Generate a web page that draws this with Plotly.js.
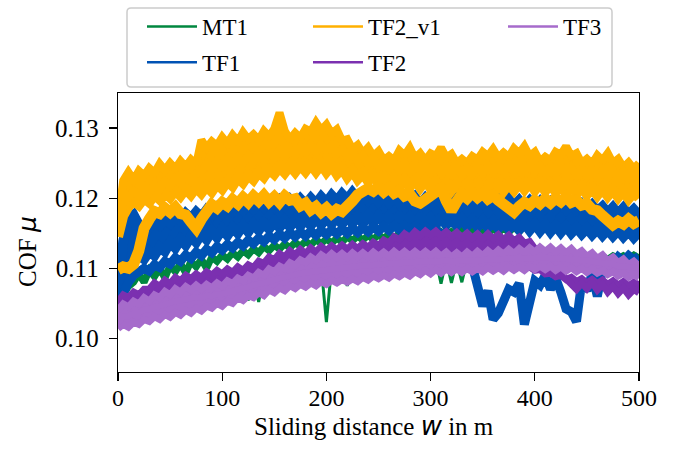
<!DOCTYPE html>
<html><head><meta charset="utf-8">
<script src="https://cdn.plot.ly/plotly-3.0.1.min.js"></script>
<style>html,body{margin:0;padding:0;background:#fff}#chart{width:673px;height:453px}</style>
</head><body><div id="chart"></div>
<script>
// sliding distance w in m
const distance = [0,5,10,15,20,25,30,35,40,45,50,55,60,65,70,75,80,85,90,95,
100,105,110,115,120,125,130,135,140,145,150,155,160,165,170,175,180,185,190,195,
200,205,210,215,220,225,230,235,240,245,250,255,260,265,270,275,280,285,290,295,
300,305,310,315,320,325,330,335,340,345,350,355,360,365,370,375,380,385,390,395,
400,405,410,415,420,425,430,435,440,445,450,455,460,465,470,475,480,485,490,495,500];

const seriesNames = ['MT1','TF1','TF2_v1','TF2','TF3'];

// COF per run
const mt1Run1 = [.1040,.1062,.1074,.1080,.1092,.1080,.1097,.1088,.1100,.1086,
.1104,.1095,.1107,.1093,.1110,.1102,.1113,.1100,.1116,.1110,
.1119,.1113,.1122,.1116,.1125,.1119,.1128,.1122,.1131,.1125,
.1133,.1127,.1135,.1129,.1137,.1131,.1139,.1133,.1141,.1135,
.1142,.1136,.1143,.1137,.1145,.1139,.1146,.1140,.1147,.1141,
.1148,.1142,.1149,.1143,.1150,.1144,.1150,.1144,.1151,.1145,
.1151,.1145,.1152,.1146,.1152,.1146,.1153,.1147,.1155,.1148,
.1156,.1149,.1157,.1150,.1158,.1151,.1159,.1152,.1160,.1153,
.1161,.1154,.1162,.1155,.1163,.1156,.1164,.1157,.1165,.1158,
.1166,.1159,.1167,.1160,.1168,.1161,.1169,.1162,.1170,.1163,.1171];
const mt1Run2 = [.1030,.1045,.1052,.1058,.1055,.1062,.1058,.1066,.1062,.1070,
.1066,.1074,.1070,.1077,.1073,.1080,.1076,.1083,.1079,.1086,
.1082,.1088,.1084,.1090,.1080,.1054,.1088,.1052,.1090,.1094,
.1090,.1096,.1093,.1098,.1095,.1100,.1097,.1102,.1099,.1103,
.1023,.1102,.1105,.1101,.1075,.1104,.1100,.1106,.1102,.1107,
.1103,.1108,.1104,.1109,.1105,.1110,.1106,.1111,.1107,.1112,
.1108,.1113,.1078,.1112,.1079,.1110,.1080,.1112,.1108,.1113,
.1109,.1114,.1110,.1115,.1111,.1116,.1112,.1116,.1112,.1117,
.1113,.1117,.1113,.1118,.1114,.1118,.1114,.1119,.1115,.1119,
.1115,.1120,.1116,.1120,.1116,.1121,.1117,.1121,.1117,.1122,.1118];
const tf1Run1 = [.1060,.1138,.1170,.1176,.1162,.1150,.1158,.1166,.1161,.1170,
.1164,.1174,.1168,.1178,.1171,.1180,.1173,.1183,.1176,.1186,
.1179,.1189,.1181,.1190,.1183,.1193,.1185,.1194,.1187,.1196,
.1188,.1197,.1189,.1198,.1190,.1199,.1191,.1200,.1192,.1202,
.1194,.1204,.1196,.1206,.1198,.1208,.1199,.1207,.1197,.1205,
.1195,.1204,.1194,.1203,.1193,.1202,.1192,.1201,.1191,.1200,
.1192,.1201,.1193,.1202,.1194,.1203,.1195,.1205,.1196,.1204,
.1194,.1202,.1192,.1200,.1190,.1199,.1189,.1197,.1188,.1196,
.1187,.1195,.1186,.1194,.1185,.1193,.1184,.1192,.1183,.1191,
.1182,.1190,.1181,.1188,.1179,.1187,.1178,.1186,.1177,.1184,.1176];
const tf1Run2 = [.1052,.1088,.1108,.1112,.1118,.1113,.1124,.1118,.1130,.1124,
.1137,.1129,.1141,.1133,.1145,.1137,.1149,.1141,.1153,.1144,
.1156,.1147,.1158,.1150,.1161,.1152,.1163,.1154,.1165,.1156,
.1167,.1158,.1168,.1159,.1169,.1160,.1171,.1161,.1172,.1162,
.1173,.1163,.1173,.1163,.1174,.1164,.1174,.1164,.1175,.1165,
.1175,.1165,.1174,.1164,.1174,.1164,.1173,.1163,.1173,.1163,
.1172,.1162,.1172,.1162,.1171,.1161,.1170,.1160,.1169,.1159,
.1168,.1158,.1167,.1157,.1166,.1156,.1165,.1155,.1164,.1154,
.1163,.1153,.1162,.1152,.1161,.1151,.1160,.1150,.1158,.1149,
.1157,.1148,.1156,.1147,.1155,.1146,.1154,.1145,.1153,.1144,.1152];
const tf1Run3 = [.1048,.1068,.1080,.1090,.1094,.1100,.1096,.1105,.1101,.1110,
.1106,.1115,.1110,.1119,.1114,.1123,.1118,.1127,.1122,.1131,
.1126,.1134,.1129,.1137,.1132,.1140,.1135,.1143,.1138,.1146,
.1141,.1149,.1143,.1151,.1145,.1152,.1146,.1153,.1147,.1154,
.1148,.1155,.1149,.1156,.1150,.1157,.1151,.1158,.1152,.1159,
.1153,.1160,.1154,.1161,.1155,.1161,.1155,.1160,.1154,.1159,
.1152,.1156,.1148,.1150,.1140,.1136,.1128,.1122,.1104,.1075,
.1046,.1068,.1027,.1036,.1058,.1070,.1066,.1078,.1020,.1056,
.1082,.1076,.1090,.1070,.1086,.1066,.1042,.1038,.1024,.1080,
.1068,.1092,.1060,.1098,.1110,.1106,.1116,.1110,.1118,.1112,.1117];
const tf2v1Run1 = [.1168,.1225,.1237,.1226,.1239,.1232,.1243,.1236,.1249,.1240,
.1250,.1242,.1253,.1245,.1255,.1248,.1283,.1272,.1281,.1275,
.1287,.1278,.1290,.1281,.1294,.1284,.1291,.1283,.1296,.1288,
.1299,.1322,.1296,.1284,.1293,.1286,.1299,.1295,.1308,.1297,
.1305,.1292,.1298,.1282,.1284,.1270,.1276,.1264,.1272,.1260,
.1267,.1254,.1260,.1254,.1268,.1261,.1272,.1257,.1264,.1254,
.1264,.1260,.1272,.1258,.1263,.1250,.1256,.1250,.1260,.1255,
.1266,.1260,.1270,.1258,.1265,.1259,.1271,.1264,.1274,.1260,
.1266,.1252,.1259,.1254,.1266,.1262,.1274,.1260,.1264,.1250,
.1256,.1249,.1261,.1254,.1264,.1250,.1256,.1244,.1251,.1242,.1250];
const tf2v1Run2 = [.1158,.1192,.1201,.1210,.1204,.1214,.1208,.1219,.1212,.1224,
.1217,.1228,.1221,.1232,.1225,.1236,.1238,.1249,.1240,.1253,
.1245,.1256,.1248,.1258,.1250,.1261,.1252,.1264,.1255,.1266,
.1258,.1268,.1259,.1270,.1262,.1273,.1264,.1276,.1266,.1277,
.1268,.1275,.1263,.1270,.1258,.1266,.1253,.1261,.1249,.1257,
.1245,.1254,.1242,.1251,.1240,.1250,.1239,.1249,.1238,.1248,
.1237,.1247,.1236,.1246,.1235,.1244,.1233,.1243,.1234,.1245,
.1235,.1246,.1236,.1247,.1237,.1248,.1238,.1249,.1239,.1248,
.1237,.1246,.1236,.1245,.1235,.1246,.1237,.1244,.1233,.1242,
.1232,.1241,.1231,.1240,.1230,.1239,.1229,.1238,.1228,.1237,.1230];
const tf2v1Run3 = [.1145,.1175,.1188,.1196,.1190,.1200,.1194,.1205,.1198,.1208,
.1201,.1211,.1203,.1213,.1205,.1215,.1207,.1217,.1209,.1220,
.1213,.1224,.1217,.1229,.1222,.1233,.1226,.1237,.1230,.1241,
.1234,.1244,.1236,.1246,.1237,.1247,.1238,.1248,.1238,.1248,
.1237,.1246,.1234,.1242,.1230,.1239,.1227,.1235,.1224,.1232,
.1221,.1230,.1219,.1228,.1217,.1227,.1216,.1226,.1215,.1225,
.1214,.1224,.1213,.1222,.1211,.1221,.1210,.1219,.1209,.1218,
.1208,.1218,.1209,.1219,.1210,.1220,.1211,.1221,.1212,.1222,
.1211,.1221,.1210,.1220,.1209,.1219,.1208,.1218,.1206,.1216,
.1205,.1215,.1204,.1214,.1203,.1212,.1201,.1210,.1199,.1208,.1200];
const tf2v1Run4 = [.1098,.1102,.1100,.1106,.1125,.1157,.1170,.1181,.1178,.1186,
.1180,.1187,.1178,.1176,.1166,.1157,.1170,.1184,.1191,.1186,
.1194,.1189,.1198,.1192,.1201,.1194,.1203,.1196,.1204,.1195,
.1202,.1194,.1203,.1197,.1199,.1189,.1193,.1183,.1188,.1180,
.1186,.1178,.1184,.1181,.1192,.1196,.1205,.1208,.1214,.1210,
.1216,.1209,.1215,.1207,.1211,.1203,.1206,.1196,.1193,.1198,
.1203,.1210,.1214,.1196,.1182,.1195,.1206,.1200,.1208,.1201,
.1207,.1199,.1204,.1197,.1192,.1186,.1180,.1188,.1194,.1190,
.1197,.1192,.1199,.1193,.1200,.1195,.1202,.1194,.1197,.1190,
.1192,.1184,.1182,.1175,.1169,.1162,.1167,.1163,.1170,.1164,.1168];
const tf2Run1 = [.1052,.1062,.1058,.1066,.1062,.1070,.1070,.1079,.1074,.1083,
.1078,.1087,.1082,.1090,.1085,.1092,.1087,.1095,.1090,.1097,
.1092,.1099,.1094,.1102,.1097,.1105,.1101,.1110,.1107,.1116,
.1112,.1121,.1116,.1125,.1119,.1127,.1121,.1129,.1123,.1131,
.1125,.1132,.1126,.1133,.1127,.1134,.1128,.1135,.1130,.1137,
.1132,.1140,.1136,.1145,.1141,.1149,.1144,.1152,.1146,.1153,
.1147,.1153,.1146,.1152,.1145,.1151,.1144,.1150,.1143,.1149,
.1142,.1149,.1142,.1148,.1141,.1147,.1139,.1144,.1136,.1138,
.1128,.1127,.1118,.1116,.1100,.1092,.1084,.1078,.1070,.1079,
.1071,.1080,.1069,.1077,.1066,.1074,.1064,.1072,.1062,.1070,.1065];
const tf2Run2 = [.1038,.1044,.1041,.1047,.1044,.1050,.1047,.1053,.1050,.1056,
.1053,.1059,.1056,.1062,.1059,.1065,.1062,.1068,.1065,.1071,
.1068,.1074,.1071,.1077,.1074,.1080,.1077,.1083,.1080,.1086,
.1083,.1089,.1086,.1092,.1089,.1094,.1091,.1096,.1093,.1098,
.1095,.1100,.1097,.1102,.1099,.1104,.1101,.1106,.1103,.1108,
.1105,.1110,.1107,.1112,.1109,.1113,.1110,.1114,.1111,.1115,
.1112,.1115,.1111,.1114,.1110,.1113,.1109,.1112,.1108,.1111,
.1107,.1110,.1106,.1109,.1105,.1107,.1103,.1105,.1100,.1102,
.1097,.1098,.1092,.1093,.1088,.1090,.1084,.1087,.1081,.1085,
.1079,.1084,.1078,.1083,.1077,.1082,.1076,.1081,.1075,.1080,.1076];
const tf3Run1 = [.1040,.1049,.1045,.1053,.1049,.1058,.1053,.1062,.1058,.1067,
.1062,.1071,.1066,.1074,.1069,.1076,.1070,.1077,.1072,.1079,
.1074,.1082,.1078,.1086,.1082,.1090,.1086,.1094,.1090,.1099,
.1095,.1103,.1099,.1108,.1104,.1112,.1108,.1116,.1111,.1119,
.1114,.1121,.1115,.1121,.1115,.1122,.1116,.1122,.1116,.1123,
.1117,.1123,.1117,.1124,.1118,.1124,.1118,.1124,.1118,.1124,
.1118,.1124,.1117,.1123,.1116,.1122,.1116,.1123,.1117,.1124,
.1118,.1125,.1119,.1126,.1120,.1127,.1121,.1128,.1122,.1129,
.1123,.1130,.1124,.1130,.1123,.1129,.1122,.1128,.1120,.1125,
.1117,.1122,.1114,.1119,.1111,.1116,.1108,.1113,.1105,.1110,.1103];
const tf3Run2 = [.1022,.1031,.1031,.1036,.1036,.1041,.1041,.1045,.1046,.1049,
.1050,.1053,.1054,.1056,.1056,.1059,.1058,.1061,.1060,.1063,
.1063,.1066,.1067,.1070,.1071,.1074,.1075,.1078,.1079,.1082,
.1083,.1086,.1087,.1090,.1091,.1093,.1094,.1096,.1097,.1098,
.1099,.1100,.1101,.1102,.1102,.1103,.1103,.1104,.1104,.1105,
.1105,.1106,.1106,.1107,.1107,.1108,.1108,.1109,.1109,.1110,
.1109,.1110,.1110,.1111,.1110,.1111,.1110,.1111,.1111,.1112,
.1111,.1112,.1112,.1113,.1113,.1114,.1114,.1115,.1114,.1115,
.1114,.1115,.1115,.1115,.1114,.1114,.1113,.1113,.1112,.1112,
.1110,.1110,.1108,.1108,.1106,.1106,.1103,.1103,.1101,.1101,.1100];
const tf3Run3 = [.1014,.1020,.1016,.1023,.1020,.1027,.1024,.1031,.1027,.1034,
.1030,.1037,.1033,.1040,.1036,.1043,.1039,.1046,.1043,.1050,
.1046,.1053,.1050,.1058,.1054,.1061,.1058,.1065,.1061,.1069,
.1065,.1072,.1068,.1075,.1071,.1077,.1073,.1079,.1075,.1081,
.1077,.1083,.1079,.1084,.1080,.1085,.1081,.1087,.1083,.1089,
.1085,.1090,.1086,.1092,.1088,.1093,.1089,.1095,.1091,.1097,
.1092,.1098,.1093,.1099,.1094,.1099,.1094,.1100,.1095,.1100,
.1095,.1101,.1096,.1101,.1096,.1102,.1097,.1102,.1097,.1103,
.1098,.1103,.1098,.1103,.1097,.1102,.1096,.1101,.1095,.1100,
.1094,.1099,.1093,.1097,.1091,.1095,.1089,.1093,.1087,.1091,.1086];

const xTickVals = [0,100,200,300,400,500];
const yTickVals = [0.10,0.11,0.12,0.13];
const xTitle = 'Sliding distance <span style="font-family:DejaVu Sans;font-style:italic;font-size:26px">w</span> in m';
const yTitle = 'COF <span style="font-family:DejaVu Sans;font-style:italic">μ</span>';

const colors = {MT1:'#00873F', TF1:'#0052B4', TF2_v1:'#FFB000', TF2:'#7B30B0', TF3:'#A66BCB'};
const legendOf = {MT1:'legend', TF1:'legend', TF2_v1:'legend2', TF2:'legend2', TF3:'legend3'};

// [series, run values, line width, fill to previous run]
const runs = [
  ['MT1', mt1Run1, 7, false], ['MT1', mt1Run2, 3, false],
  ['TF1', tf1Run2, 10, false], ['TF1', tf1Run1, 10, true], ['TF1', tf1Run3, 9, false],
  ['TF2_v1', tf2v1Run3, 10, false], ['TF2_v1', tf2v1Run1, 8, true],
  ['TF2_v1', tf2v1Run2, 8, false], ['TF2_v1', tf2v1Run4, 11, false],
  ['TF2', tf2Run2, 7, false], ['TF2', tf2Run1, 7, true],
  ['TF3', tf3Run3, 7, false], ['TF3', tf3Run1, 7, true], ['TF3', tf3Run2, 6, false]
];
const traces = runs.map(([name, vals, w, band]) => ({
  type:'scatter', mode:'lines', x: distance, y: vals, name: name,
  legendgroup: name, showlegend: false,
  fill: band ? 'tonexty' : 'none', fillcolor: colors[name],
  line:{color: colors[name], width: w}, hoverinfo:'skip'
}));
// legend keys (thin line like the original legend)
seriesNames.forEach(name => traces.push({
  type:'scatter', mode:'lines', x:[null], y:[null], name: name,
  legendgroup: name, showlegend: true, legend: legendOf[name],
  line:{color: colors[name], width: 2.5}, hoverinfo:'skip'
}));

const W = 673, H = 453, M = {l:118, r:34, t:93, b:81};
const plotW = W - M.l - M.r, plotH = H - M.t - M.b;
const px = v => (v - M.l) / plotW;
const py = v => (H - M.b - v) / plotH;
const L = px(127), R = px(612), T = py(8), B = py(87);
const rx = 4/plotW, ry = 4/plotH;
const boxPath = `M ${L+rx},${T} L ${R-rx},${T} Q ${R},${T} ${R},${T-ry} L ${R},${B+ry} Q ${R},${B} ${R-rx},${B} L ${L+rx},${B} Q ${L},${B} ${L},${B+ry} L ${L},${T-ry} Q ${L},${T} ${L+rx},${T} Z`;

const serif = 'Liberation Serif';
const legendBase = {
  font:{family: serif, size:23, color:'#000'}, bgcolor:'rgba(0,0,0,0)', borderwidth:0,
  xref:'container', yref:'container', xanchor:'left', yanchor:'top',
  traceorder:'grouped', tracegroupgap:3, itemwidth:50
};
const axisBase = {
  showline:true, linecolor:'#000', linewidth:1.3, mirror:true,
  ticks:'outside', ticklen:8, tickwidth:1.3, tickcolor:'#000',
  showgrid:false, zeroline:false
};

const layout = {
  width: W, height: H,
  margin: {l:M.l, r:M.r, t:M.t, b:M.b, autoexpand:false},
  paper_bgcolor:'#fff', plot_bgcolor:'#fff',
  showlegend: true,
  font:{family: serif, color:'#000'},
  xaxis: Object.assign({}, axisBase, {
    range:[0,500], tickvals: xTickVals, ticktext: xTickVals.map(String),
    ticklabelstandoff:-4, tickfont:{family: serif, size:24, color:'#000'}
  }),
  yaxis: Object.assign({}, axisBase, {
    range:[0.0952, 0.135], tickvals: yTickVals, ticktext: yTickVals.map(v => v.toFixed(2)),
    ticklabelstandoff:5, tickfont:{family: serif, size:25, color:'#000'}
  }),
  legend: Object.assign({}, legendBase, {x: 142/W, y: 1 - 5/H}),
  legend2: Object.assign({}, legendBase, {x: 308/W, y: 1 - 5/H}),
  legend3: Object.assign({}, legendBase, {x: 503/W, y: 1 - 5/H}),
  annotations:[
    {text: xTitle, xref:'paper', yref:'paper', x: px(374), y: py(426), xanchor:'center', yanchor:'middle',
      showarrow:false, font:{family: serif, size:25, color:'#000'}},
    {text: yTitle, xref:'paper', yref:'paper', x: px(28), y: py(252), xanchor:'center', yanchor:'middle',
      textangle:-90, showarrow:false, font:{family: serif, size:25, color:'#000'}}
  ],
  shapes:[{type:'path', xref:'paper', yref:'paper', path: boxPath,
    line:{color:'#cccccc', width:1.5}, fillcolor:'rgba(0,0,0,0)', layer:'above'}]
};

Plotly.newPlot('chart', traces, layout, {displayModeBar:false, staticPlot:true});
</script></body></html>
